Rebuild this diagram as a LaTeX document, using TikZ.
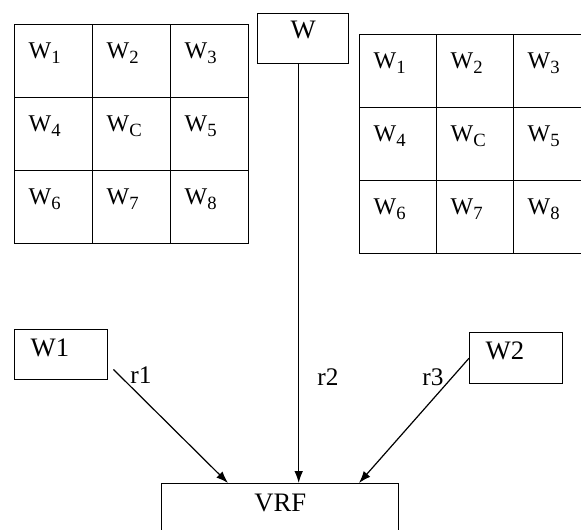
\documentclass[tikz,border=0pt]{standalone}
\usepackage{fontspec}
\setmainfont{Liberation Serif}
\usetikzlibrary{arrows.meta}
\newcommand{\wsub}[1]{W\raisebox{-0.22em}{\fontsize{14}{14}\selectfont #1}}
\begin{document}
\begin{tikzpicture}[x=0.75pt,y=-0.75pt,
  cell/.style={draw, line width=1.1pt, anchor=north west, minimum width=#1, minimum height=54.75pt,
    inner xsep=10.5pt, inner ysep=0pt, text width=#1-21pt, align=left,
    text height=12pt, text depth=16pt, font=\fontsize{18}{20}\selectfont},
  cell/.default=58.5pt,
  box/.style={draw, line width=1.1pt, anchor=north west, inner ysep=0pt, font=\fontsize{20}{22}\selectfont},
  conn/.style={line width=0.9pt, -{Latex[length=9pt,width=6.5pt]}},
  lbl/.style={inner sep=0pt, font=\fontsize{19}{21}\selectfont}
]
\useasboundingbox (0,0) rectangle (581,529);
\clip (0,0) rectangle (581,529);

% left grid
\node[cell] (L1) at (14,24)  {\wsub{1}};
\node[cell] (L2) at (92,24)  {\wsub{2}};
\node[cell] (L3) at (170,24) {\wsub{3}};
\node[cell] (L4) at (14,97)  {\wsub{4}};
\node[cell] (L5) at (92,97)  {\wsub{C}};
\node[cell] (L6) at (170,97) {\wsub{5}};
\node[cell] (L7) at (14,170)  {\wsub{6}};
\node[cell] (L8) at (92,170)  {\wsub{7}};
\node[cell] (L9) at (170,170) {\wsub{8}};

% right grid
\node[cell=57.75pt] (R1) at (359,34)  {\wsub{1}};
\node[cell=57.75pt] (R2) at (436,34)  {\wsub{2}};
\node[cell=57.75pt] (R3) at (513,34)  {\wsub{3}};
\node[cell=57.75pt] (R4) at (359,107) {\wsub{4}};
\node[cell=57.75pt] (R5) at (436,107) {\wsub{C}};
\node[cell=57.75pt] (R6) at (513,107) {\wsub{5}};
\node[cell=57.75pt] (R7) at (359,180) {\wsub{6}};
\node[cell=57.75pt] (R8) at (436,180) {\wsub{7}};
\node[cell=57.75pt] (R9) at (513,180) {\wsub{8}};

% boxes
\node[box, minimum width=68.25pt, minimum height=37.5pt, text height=12pt, text depth=12.3pt] (W) at (257,13) {W};
\node[box, minimum width=69.75pt, minimum height=37.5pt, inner xsep=12pt, text width=45.75pt, align=left,
      text height=14pt, text depth=11.3pt] (W1) at (14,329) {W1};
\node[box, minimum width=69.75pt, minimum height=38.25pt, inner xsep=12pt, text width=45.75pt, align=left,
      text height=14pt, text depth=12pt] (W2) at (469,332) {W2};
\node[box, minimum width=177.75pt, minimum height=45pt, text height=12pt, text depth=15.3pt] (VRF) at (161,483) {VRF};

% connectors
\draw[conn] ([xshift=3.75pt,yshift=8.25pt]W1.south east) -- ([xshift=50.25pt]VRF.north west);
\draw[conn] ([xshift=-3.4pt]W.south) -- ([xshift=-3.4pt]W.south |- VRF.north);
\draw[conn] (W2.west) -- ([xshift=148.5pt]VRF.north west);

% labels
\node[lbl] (r1) at (141,375) {r1};
\node[lbl] (r2) at (328,377) {r2};
\node[lbl] (r3) at (433,377) {r3};
\end{tikzpicture}
\end{document}
